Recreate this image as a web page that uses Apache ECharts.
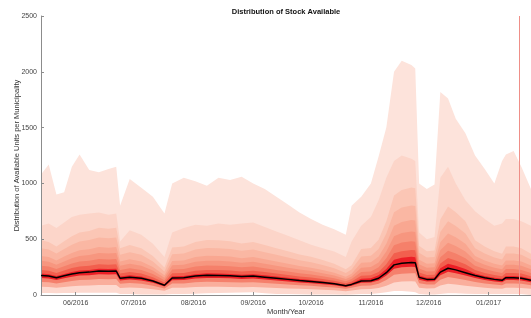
<!DOCTYPE html>
<html>
<head>
<meta charset="utf-8">
<script src="https://cdn.jsdelivr.net/npm/echarts@6/dist/echarts.min.js"></script>
<style>
html,body{margin:0;padding:0;background:#fff;}
#chart{width:531px;height:318px;}
</style>
</head>
<body>
<div id="chart"></div>
<script>
// sample dates (fan chart of stock per municipality)
var dates = ['2016-05-14','2016-05-18','2016-05-22','2016-05-26','2016-05-30','2016-06-03','2016-06-08','2016-06-13','2016-06-18','2016-06-22','2016-06-24','2016-06-29','2016-07-05','2016-07-11','2016-07-17','2016-07-21','2016-07-27','2016-08-02','2016-08-08','2016-08-14','2016-08-20','2016-08-26','2016-09-01','2016-09-07','2016-09-13','2016-09-19','2016-09-25','2016-10-01','2016-10-07','2016-10-13','2016-10-19','2016-10-22','2016-10-27','2016-11-01','2016-11-05','2016-11-09','2016-11-13','2016-11-17','2016-11-22','2016-11-24','2016-11-26','2016-11-30','2016-12-04','2016-12-07','2016-12-11','2016-12-15','2016-12-20','2016-12-25','2016-12-30','2017-01-04','2017-01-08','2017-01-10','2017-01-14','2017-01-18','2017-01-23'];

// percentile lines, top to bottom
var maxVals = [1080,1170,900,920,1150,1260,1120,1100,1130,1150,800,1040,960,880,730,1000,1050,1020,980,1050,1030,1060,1000,950,880,810,740,680,630,590,540,800,880,1000,1240,1500,2000,2100,2060,2030,1000,950,990,1820,1760,1580,1450,1250,1130,1000,1200,1260,1290,1150,950];
var p97 = [620,640,600,650,700,720,730,740,720,730,480,580,540,460,340,560,600,630,620,640,630,640,650,610,570,530,490,450,420,390,340,480,620,700,850,1050,1200,1250,1220,1200,560,500,520,1050,1150,1000,850,750,680,620,640,680,680,660,620];
var p93 = [490,476,434,482,526,560,574,602,594,602,420,448,420,350,246,426,434,476,493,490,482,462,476,448,420,392,364,342,314,280,230,266,412,422,495,660,891,940,964,957,442,392,398,676,792,742,660,490,434,392,370,434,434,420,370];
var p90 = [420,408,372,413,451,480,492,516,509,516,360,384,360,300,211,365,372,408,422,420,413,396,408,384,360,336,312,293,269,240,197,228,344,352,412,550,742,784,803,797,379,336,341,564,660,619,550,420,372,336,317,372,372,360,317];
var p85 = [350,340,310,344,376,400,410,430,424,430,300,320,300,250,176,304,310,340,352,350,344,330,340,320,300,280,260,244,224,200,164,190,288,294,345,460,621,655,672,667,316,280,284,472,552,518,460,350,310,280,264,310,310,300,264];
var p80 = [306,298,271,301,329,350,359,376,371,376,262,280,262,219,154,266,271,298,308,306,301,289,298,280,262,245,228,214,196,175,144,166,244,250,292,390,526,556,569,565,276,245,248,400,468,439,390,306,271,245,231,271,271,262,231];
var p75 = [262,255,232,258,282,300,307,322,318,322,225,240,225,188,132,228,232,255,264,262,258,248,255,240,225,210,195,183,168,150,123,143,206,211,248,330,445,470,482,478,237,210,213,338,396,371,330,262,232,210,198,232,232,225,198];
var p65 = [224,218,198,220,241,256,262,275,271,275,192,205,192,160,113,195,198,218,225,224,220,211,218,205,192,179,166,156,143,128,105,122,172,177,207,276,373,393,403,400,202,179,182,283,331,310,276,224,198,179,169,198,198,192,169];
var p55 = [192,187,170,189,207,220,225,236,233,236,165,176,165,137,97,167,170,187,194,192,189,181,187,176,165,154,143,134,123,110,90,105,146,150,176,234,316,333,342,339,174,154,156,240,281,263,234,192,170,154,145,170,170,165,145];
var median = [175,170,155,172,188,200,205,215,212,215,150,160,150,125,88,152,155,170,176,175,172,165,170,160,150,140,130,122,112,100,82,95,125,128,150,200,270,285,292,290,158,140,142,205,240,225,200,175,155,140,132,155,155,150,132];
var p45 = [152,148,135,150,164,174,178,187,184,187,130,139,130,109,77,132,135,148,153,152,150,144,148,139,130,122,113,106,97,87,71,83,109,111,130,174,235,248,254,252,137,122,124,178,209,196,174,152,135,122,115,135,135,130,115];
var p30 = [117,114,104,115,126,134,137,144,142,144,100,107,100,84,59,102,104,114,118,117,115,111,114,107,100,94,87,82,75,67,55,64,84,86,100,134,181,191,196,194,106,94,95,137,161,151,134,117,104,94,88,104,104,100,88];
var p15 = [74,71,65,72,79,84,86,90,89,90,63,67,63,52,37,64,65,71,74,74,72,69,71,67,63,59,55,51,47,42,34,40,52,54,63,84,113,120,123,122,66,59,60,86,101,94,84,74,65,59,55,65,65,63,55];
var minVals = [18,17,15,17,19,20,20,21,21,21,10,8,5,5,5,8,10,12,15,18,20,22,25,15,10,8,6,5,5,5,3,5,8,10,15,25,35,35,30,25,8,5,5,10,15,15,12,10,8,8,8,10,10,8,8];

var yTicks = [0, 500, 1000, 1500, 2000, 2500];
var markDate = '2017-01-17';

var lines = [maxVals, p97, p93, p90, p85, p80, p75, p65, p55, p45, p30, p15, minVals];
// colour of the band just under each line
var fills = ['#fde3db','#fcd5c9','#fbc6b5','#fab7a3','#f9a791','#f7967f','#f5806a','#f25f4e','#ec1e26','#f5806c','#faae9c','#fdd9cf','#ffffff'];

var FONT = 'Liberation Sans, Arial, sans-serif';

function pairs(arr) {
    return dates.map(function (d, i) { return [d, arr[i]]; });
}

var series = lines.map(function (arr, i) {
    return {
        type: 'line',
        data: pairs(arr),
        symbol: 'none',
        silent: true,
        lineStyle: { width: 0 },
        areaStyle: { color: fills[i], opacity: 1 },
        z: 2
    };
});

series.push({
    type: 'line',
    name: 'Median',
    data: pairs(median),
    symbol: 'none',
    silent: true,
    lineStyle: { color: '#000', width: 1.5 },
    z: 4,
    markLine: {
        symbol: 'none',
        silent: true,
        label: { show: false },
        lineStyle: { color: '#ef8f88', width: 1, type: 'solid' },
        data: [{ xAxis: markDate }]
    }
});

var myChart = echarts.init(document.getElementById('chart'));
myChart.setOption({
    animation: false,
    backgroundColor: '#fff',
    grid: { left: 41, right: 0, top: 16, bottom: 23, outerBoundsMode: 'none', containLabel: false },
    graphic: [{
        type: 'text',
        style: {
            text: 'Distribution of Stock Available',
            x: 286, y: 12,
            align: 'center', verticalAlign: 'middle',
            font: 'bold 7.5px ' + FONT,
            fill: '#111'
        }
    }],
    xAxis: {
        type: 'time',
        min: '2016-05-14',
        max: '2017-01-23',
        minInterval: 28 * 86400000,
        maxInterval: 31 * 86400000,
        z: 3,
        name: 'Month/Year',
        nameLocation: 'middle',
        nameGap: 13,
        nameMoveOverlap: false,
        nameTextStyle: { fontSize: 7.5, color: '#333', fontFamily: FONT },
        axisLine: { lineStyle: { color: '#8c8c8c', width: 1 } },
        axisTick: { inside: true, length: 3, lineStyle: { color: '#8c8c8c' } },
        axisLabel: {
            formatter: '{MM}/{yyyy}',
            fontSize: 7, color: '#444', fontFamily: FONT, margin: 5,
            showMinLabel: false, showMaxLabel: false
        },
        splitLine: { show: false }
    },
    yAxis: {
        type: 'value',
        min: yTicks[0],
        max: yTicks[yTicks.length - 1],
        interval: 500,
        z: 3,
        name: 'Distribution of Available Units per Municipality',
        nameLocation: 'middle',
        nameGap: 20,
        nameMoveOverlap: false,
        nameTextStyle: { fontSize: 7.5, color: '#333', fontFamily: FONT },
        axisLine: { show: true, lineStyle: { color: '#8c8c8c', width: 1 } },
        axisTick: { show: true, inside: true, length: 3, lineStyle: { color: '#8c8c8c' } },
        axisLabel: {
            fontSize: 7, color: '#444', fontFamily: FONT, margin: 4,
            formatter: function (v) { return String(v); }
        },
        splitLine: { show: false }
    },
    series: series
});
</script>
</body>
</html>
